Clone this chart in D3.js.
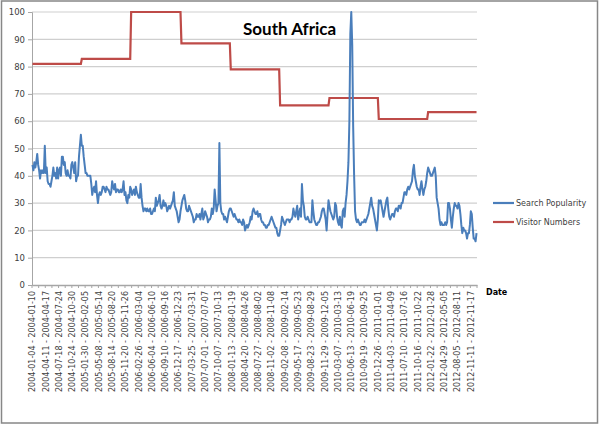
<!DOCTYPE html>
<html>
<head>
<meta charset="utf-8">
<script src="https://cdn.jsdelivr.net/npm/d3@7"></script>
<style>
  body { margin: 0; background: #fff; }
  svg { display: block; }
</style>
</head>
<body>
<svg></svg>
<script>
// first week of the series, every category is one week
const firstWeek = "2004-01-04"

// weekly search popularity
const searchPopularity = [
  44,42,45,43,45,48,44,42,39,42,
  41,42,41,51,41,43,38,37,37,36,
  38,40,43,40,41,39,43,39,42,43,
  40,47,47,44,45,41,40,42,40,40,
  39,44,45,43,41,45,38,40,40,47,
  51,55,51,51,47,44,41,41,40,40,
  40,40,37,33,35,36,34,38,33,30,
  33,34,33,34,36,36,35,34,36,35,
  35,34,33,34,38,36,35,37,34,35,
  35,34,34,35,34,35,38,33,34,31,
  30,33,32,36,35,33,34,35,33,36,
  34,33,32,32,37,32,29,27,28,28,
  27,28,27,27,28,26,26,27,28,27,
  32,29,30,31,33,29,28,29,31,29,
  30,29,27,28,29,28,29,30,31,34,
  29,28,27,25,23,24,27,29,31,32,
  33,31,28,27,27,29,28,27,26,25,
  23,24,24,26,25,25,26,24,26,28,
  24,25,27,26,25,23,24,24,25,28,
  26,28,35,31,27,29,30,52,30,27,
  26,26,24,25,24,23,25,27,28,28,
  27,26,25,26,25,24,24,23,24,23,
  23,22,24,23,20,21,22,21,22,23,
  25,24,27,28,27,26,26,27,25,26,
  26,24,23,23,22,22,21,21,22,22,
  23,24,25,24,23,22,21,21,19,18,
  18,20,22,25,24,23,22,23,24,24,
  24,23,24,24,25,28,26,25,27,29,
  24,26,28,25,37,31,29,25,24,24,
  25,24,23,23,23,31,27,24,23,22,
  22,23,23,24,25,27,28,28,26,24,
  20,26,31,29,27,26,25,24,25,30,
  29,25,23,22,25,22,21,27,28,25,
  30,33,38,45,60,92,100,88,58,40,
  27,24,23,24,23,22,22,23,23,23,
  24,23,24,25,26,28,30,32,29,28,
  26,24,22,20,24,31,30,31,29,27,
  25,27,29,31,32,28,25,24,25,26,
  26,25,27,28,28,27,29,29,28,30,
  30,32,34,34,33,35,36,35,36,37,
  38,42,44,40,38,36,35,35,33,36,
  38,35,33,35,36,38,41,43,42,41,
  40,40,41,42,43,40,32,30,28,24,
  22,23,22,22,22,23,22,23,30,30,
  28,24,21,25,28,30,29,29,28,30,
  29,26,22,19,21,20,20,19,17,19,
  19,22,27,26,21,17,17,16,19
]

// yearly visitor numbers (indexed)
const visitorYears = [2004, 2005, 2006, 2007, 2008, 2009, 2010, 2011, 2012]
const visitorNumbers = [81, 82.8, 100, 88.5, 79, 65.8, 68.5, 60.8, 63.3]

const yTicks = [0, 10, 20, 30, 40, 50, 60, 70, 80, 90, 100]

const width = 600
const height = 425

let svg = d3.select("svg").attr("width", width).attr("height", height)

let parse = d3.timeParse("%Y-%m-%d")
let fmt = d3.timeFormat("%Y-%m-%d")
let startDate = parse(firstWeek)

let weeks = searchPopularity.map((v, i) => {
    let s = d3.timeDay.offset(startDate, i * 7)
    let e = d3.timeDay.offset(s, 6)
    return {i: i, start: s, label: fmt(s) + " - " + fmt(e), search: v,
        visitors: visitorNumbers[visitorYears.indexOf(s.getFullYear())]}
})

let plotLeft = 32, plotRight = 477, plotTop = 12, plotBottom = 285

let xScale = d3.scaleBand()
    .domain(weeks.map(d => d.i))
    .range([plotLeft, plotRight])
    .paddingInner(0).paddingOuter(0)
let xMid = i => xScale(i) + xScale.bandwidth() / 2

let yScale = d3.scaleLinear().domain([0, 100]).range([plotBottom, plotTop])

// outer frame
svg.append("rect")
    .attr("x", 1.5).attr("y", 1).attr("width", 596).attr("height", 422)
    .attr("fill", "#fff").attr("stroke", "#878787").attr("stroke-width", 1.5)

// gridlines
svg.append("g").selectAll("line")
    .data(yTicks.filter(t => t > 0))
    .enter().append("line")
    .attr("x1", plotLeft).attr("x2", plotRight)
    .attr("y1", d => yScale(d)).attr("y2", d => yScale(d))
    .attr("stroke", "#cfcfcf").attr("stroke-width", 1.2)

// y axis
let yAxis = d3.axisLeft(yScale).tickValues(yTicks).tickSize(4).tickPadding(3)
let gy = svg.append("g").attr("transform", "translate(" + plotLeft + ",0)").call(yAxis)
gy.select(".domain").attr("stroke", "#a6a6a6")
gy.selectAll(".tick line").attr("stroke", "#a6a6a6")
gy.selectAll("text")
    .attr("font-family", "DejaVu Sans").attr("font-size", 8.5).attr("fill", "#404040")

// x axis: ticks every 7 weeks, labels every 14 weeks
let xAxis = d3.axisBottom(xScale)
    .tickValues(weeks.filter(d => d.i % 14 == 0).map(d => d.i))
    .tickFormat(i => weeks[i].label)
    .tickSize(0)
let gx = svg.append("g").attr("transform", "translate(0," + plotBottom + ")").call(xAxis)
gx.select(".domain").attr("stroke", "#a6a6a6").attr("stroke-width", 1.5)
gx.selectAll("text")
    .attr("font-family", "DejaVu Sans").attr("font-size", 8).attr("fill", "#404040")
    .attr("text-anchor", "end")
    .attr("transform", "rotate(-90)")
    .attr("x", -6).attr("y", 0).attr("dy", "0.35em")

let tickPos = weeks.filter(d => d.i % 7 == 0).map(d => xScale(d.i)).concat([plotRight])
svg.append("g").selectAll("line")
    .data(tickPos)
    .enter().append("line")
    .attr("x1", d => d).attr("x2", d => d)
    .attr("y1", plotBottom).attr("y2", plotBottom + 3)
    .attr("stroke", "#a6a6a6")

// lines
let visitorLine = d3.line().x(d => xMid(d.i)).y(d => yScale(d.visitors))
let searchLine = d3.line().x(d => xMid(d.i)).y(d => yScale(d.search))

svg.append("path")
    .datum(weeks)
    .attr("d", visitorLine)
    .attr("fill", "none").attr("stroke", "#be4b48").attr("stroke-width", 2.2)

svg.append("path")
    .datum(weeks)
    .attr("d", searchLine)
    .attr("fill", "none").attr("stroke", "#4a7ebb").attr("stroke-width", 2)
    .attr("stroke-linejoin", "round")

// title
svg.append("text")
    .attr("x", 243).attr("y", 35)
    .attr("font-family", "Lato").attr("font-weight", "bold").attr("font-size", 17)
    .attr("fill", "#000")
    .text("South Africa")

// legend
let legend = [
    {name: "Search Popularity", color: "#4a7ebb", y: 203},
    {name: "Visitor Numbers", color: "#be4b48", y: 222}
]
let lg = svg.append("g")
lg.selectAll("line").data(legend).enter().append("line")
    .attr("x1", 493).attr("x2", 514)
    .attr("y1", d => d.y).attr("y2", d => d.y)
    .attr("stroke", d => d.color).attr("stroke-width", 2.2)
lg.selectAll("text").data(legend).enter().append("text")
    .attr("x", 516).attr("y", d => d.y).attr("dy", "0.35em")
    .attr("font-family", "DejaVu Sans").attr("font-size", 8).attr("fill", "#404040")
    .text(d => d.name)

// axis title
svg.append("text")
    .attr("x", 486).attr("y", 292).attr("dy", "0.35em")
    .attr("font-family", "DejaVu Sans").attr("font-weight", "bold").attr("font-size", 8)
    .attr("fill", "#000")
    .text("Date")
</script>
</body>
</html>
